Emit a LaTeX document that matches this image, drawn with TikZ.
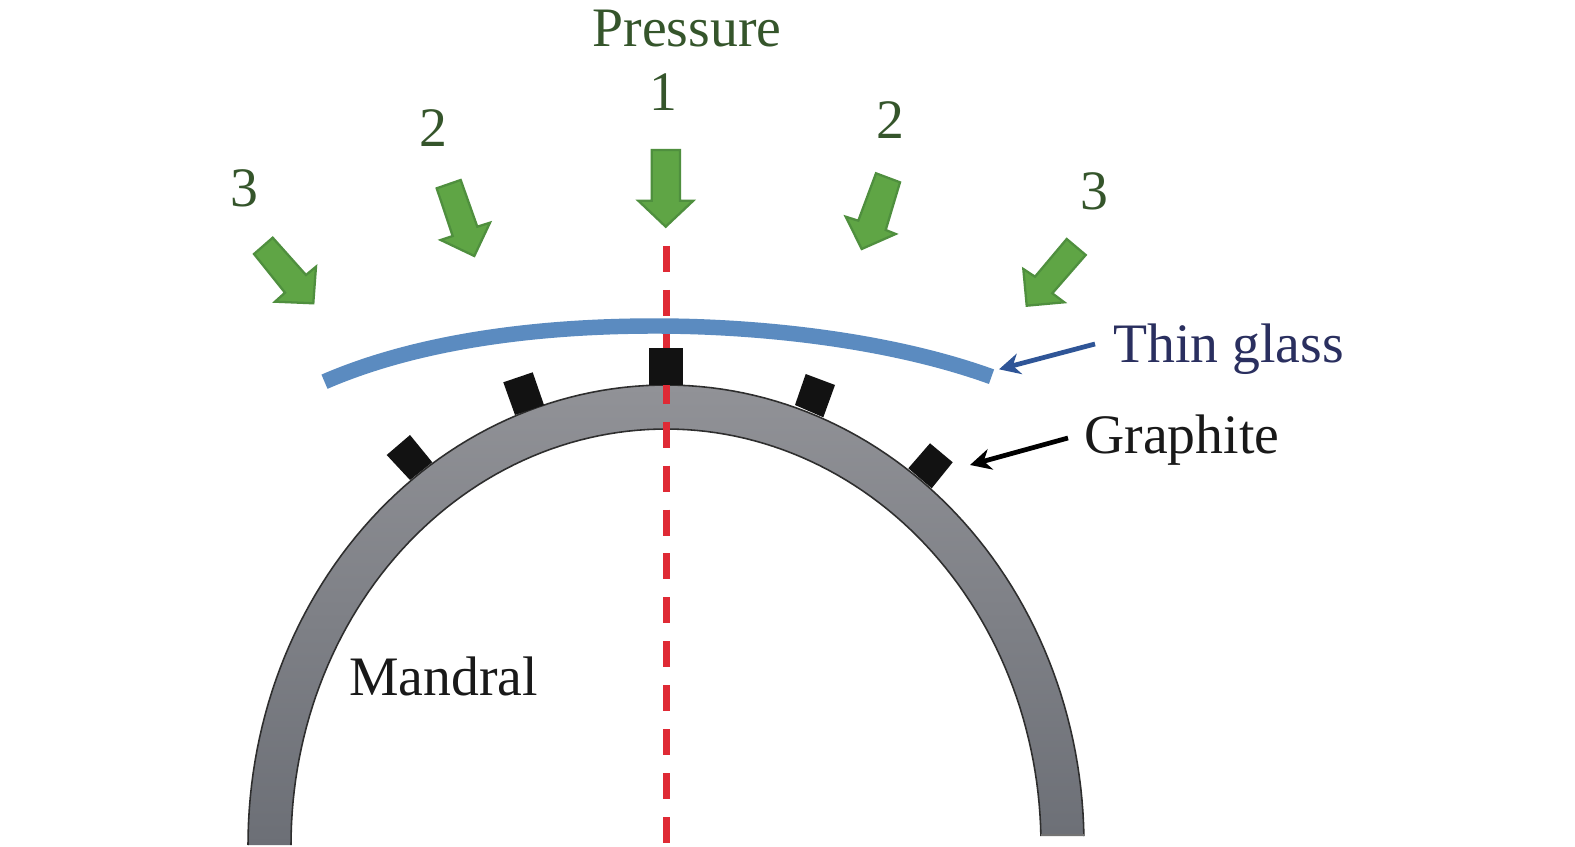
\documentclass[tikz,border=0pt]{standalone}
\usepackage{fontspec}
\setmainfont{Liberation Serif}
\usetikzlibrary{arrows.meta}
\definecolor{gtext}{HTML}{35552B}
\definecolor{gfill}{HTML}{5FA545}
\definecolor{gedge}{HTML}{4F8F3E}
\definecolor{glassblue}{HTML}{5B8BC0}
\definecolor{leadblue}{HTML}{2F5597}
\definecolor{navytext}{HTML}{2A2F5F}
\definecolor{redline}{HTML}{DF2A35}
\definecolor{tintop}{HTML}{919297}
\definecolor{tinbot}{HTML}{6C6F76}
\tikzset{
  px/.style={x=0.02cm,y=-0.02cm},
  lab/.style={inner sep=0pt,font=\fontsize{31.7pt}{36pt}\selectfont,text=#1},
  pressarrow/.style={fill=gfill,draw=gedge,line width=1.3pt,line join=miter},
  blockshape/.style={fill=black!93},
  arcedge/.style={black!82,line width=0.9pt},
  leader/.style={line width=2.7pt,-{Stealth[length=12pt,width=12pt]}}
}
\begin{document}
\begin{tikzpicture}[px]
\useasboundingbox (0,0) rectangle (1575,847);
\fill[white] (0,0) rectangle (1575,847);
% mandrel
\shade[top color=tintop,bottom color=tinbot]
  plot[domain=180:1.1,samples=120] ({666+418*cos(\x)},{845-460*sin(\x)})
  -- plot[domain=1.24:180,samples=120] ({666+375*cos(\x)},{845-416*sin(\x)}) -- cycle;
\draw[arcedge] plot[domain=180:1.1,samples=120] ({666+418*cos(\x)},{845-460*sin(\x)});
\draw[arcedge] plot[domain=1.24:180,samples=120] ({666+375*cos(\x)},{845-416*sin(\x)});
\draw[black!55,line width=0.9pt] (1041,835) -- (1084,835);
% centre line
\coordinate (ctop) at (666.3,246);
\coordinate (cbot) at (666.3,846);
\draw[redline,line width=4.3pt,dash pattern=on 14.8pt off 10.2pt] (ctop) -- (cbot);
% glass
\draw[glassblue,line width=8.8pt]
  (324.5,381.7) .. controls (430,336) and (560,326) .. (655,326)
  .. controls (760,326) and (890,340) .. (991.5,376.7);
% graphite blocks
\fill[blockshape] (648.5,348) -- (682.7,348) -- (682.7,385) -- (648.5,385) -- cycle;
\fill[blockshape] (503.3,382.3) -- (532.7,372.3) -- (544,405) -- (515,415) -- cycle;
\fill[blockshape] (386.7,455) -- (410,435) -- (432.3,462.3) -- (410,480) -- cycle;
\fill[blockshape] (805.7,374) -- (835,385) -- (823.3,417.3) -- (795,405) -- cycle;
\fill[blockshape] (930,443.3) -- (952.7,462.3) -- (931.7,488.3) -- (908.3,468.3) -- cycle;
% pressure arrows
\draw[pressarrow] (651.7,150) -- (680,150) -- (680,200.7) -- (693.3,200.7) -- (665.7,226.7) -- (638.3,200.7) -- (651.7,200.7) -- cycle;
\draw[pressarrow] (436.7,188.3) -- (460.7,180) -- (477.3,226.7) -- (490,222.7) -- (474.3,256) -- (440.7,240) -- (452.7,236) -- cycle;
\draw[pressarrow] (254,254) -- (272.7,237.7) -- (306,275) -- (316,266.7) -- (313.3,303.3) -- (275,301.7) -- (285,292.7) -- cycle;
\draw[pressarrow] (876,173.3) -- (900,182.3) -- (885.7,230) -- (895.7,234) -- (861.7,249) -- (845.7,216.7) -- (858.3,220.7) -- cycle;
\draw[pressarrow] (1066.7,239) -- (1085.7,255) -- (1052.3,293.3) -- (1064.3,302.3) -- (1026.7,305.7) -- (1023.3,269) -- (1035,276.7) -- cycle;
% labels
\node[lab=gtext,anchor=base] (pressure) at (687,47) {Pressure};
\node[lab=gtext,anchor=base] (one) at (663,110.5) {1};
\node[lab=gtext,anchor=base] (twol) at (433.5,147) {2};
\node[lab=gtext,anchor=base] (twor) at (890,139) {2};
\node[lab=gtext,anchor=base] (threel) at (244,207) {3};
\node[lab=gtext,anchor=base] (threer) at (1094,210) {3};
\node[lab=navytext,anchor=base west] (thin) at (1113,363) {Thin glass};
\node[lab=black!90,anchor=base west] (graphite) at (1084,454) {Graphite};
\node[lab=black!90,anchor=base west] (mandral) at (349,695) {Mandral};
% leaders
\coordinate (thinstart) at (1095,344);
\coordinate (thintip) at (999,369.3);
\coordinate (grastart) at (1068,438);
\coordinate (gratip) at (970,465);
\draw[leader,leadblue] (thinstart) -- (thintip);
\draw[leader,black] (grastart) -- (gratip);
\end{tikzpicture}
\end{document}
